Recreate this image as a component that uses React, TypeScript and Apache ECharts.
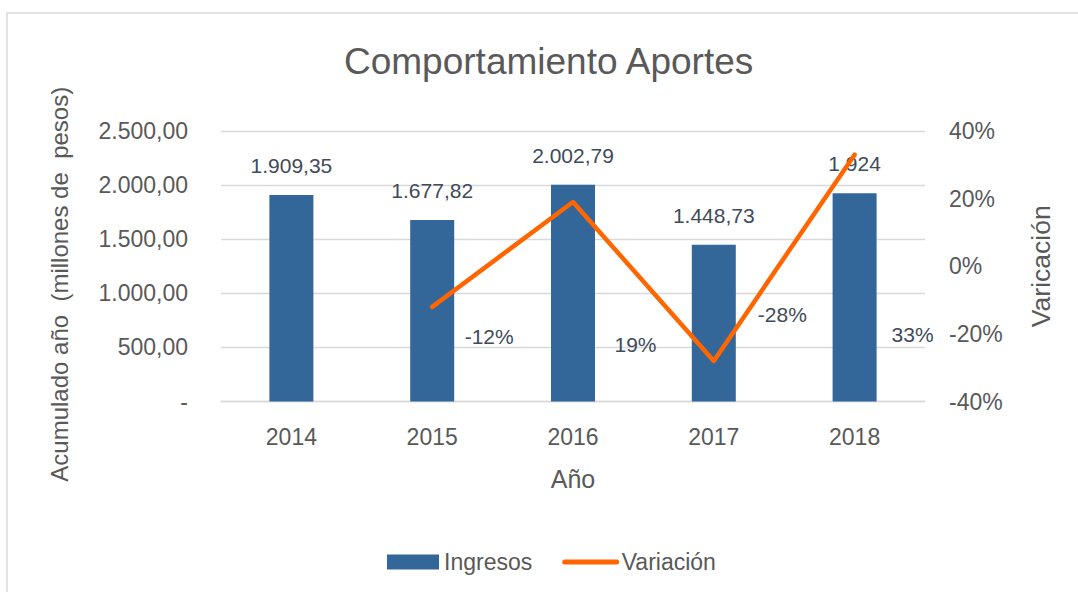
import React, { useEffect, useRef } from 'react';
import * as echarts from 'echarts';

const years = ['2014', '2015', '2016', '2017', '2018'];
const ingresos = [1909.35, 1677.82, 2002.79, 1448.73, 1924];
const variacion: (number | string)[] = ['-', -12, 19, -28, 33];
const leftTicks = { min: 0, max: 2500, interval: 500 };
const rightTicks = { min: -40, max: 40, interval: 20 };

const titleText = 'Comportamiento Aportes';
const leftName = 'Acumulado año  (millones de  pesos)';
const rightName = 'Varicación';
const xName = 'Año';
const barName = 'Ingresos';
const lineName = 'Variación';

function fmtNum(v: number, dec: number): string {
  const fixed = v.toFixed(dec);
  const parts = fixed.split('.');
  const grouped = parts[0].replace(/\B(?=(\d{3})+(?!\d))/g, '.');
  return parts[1] ? grouped + ',' + parts[1] : grouped;
}

export default function App() {
  const ref = useRef<HTMLDivElement>(null);

  useEffect(() => {
    if (!ref.current) return;
    const chart = echarts.init(ref.current, undefined, { renderer: 'svg' });
    const gray = '#595959';
    const labelColor = '#404B5B';
    const font = 'Liberation Sans, Arial, sans-serif';
    // per-point label offsets (layout only)
    const lineLabelOffsets: number[][] = [[0, 0], [57, 29.5], [62.5, 142], [68.5, -46], [58, 180]];

    chart.setOption({
      animation: false,
      backgroundColor: '#ffffff',
      textStyle: { fontFamily: font },
      title: {
        text: titleText,
        left: 344,
        top: 43,
        padding: 0,
        textStyle: { fontSize: 37, fontWeight: 'normal', color: gray, fontFamily: font },
      },
      graphic: [
        {
          type: 'rect',
          shape: { x: 7, y: 13, width: 1200, height: 700 },
          style: { fill: 'none', stroke: '#D9D9D9', lineWidth: 1.5 },
          silent: true,
          z: -1,
        },
      ],
      legend: {
        left: 387,
        top: 550.5,
        padding: 0,
        itemWidth: 52,
        itemHeight: 15,
        itemGap: 30,
        textStyle: { fontSize: 23, color: gray, fontFamily: font },
        data: [
          { name: barName, icon: 'rect' },
          {
            name: lineName,
            itemStyle: { opacity: 0 },
            lineStyle: { width: 5, cap: 'round', color: '#FF6600' },
          },
        ],
      },
      grid: { left: 221, right: 153, top: 131, bottom: 190.5, containLabel: false },
      xAxis: {
        type: 'category',
        data: years,
        name: xName,
        nameLocation: 'middle',
        nameGap: 65,
        nameTextStyle: { fontSize: 25, color: gray, fontFamily: font },
        axisLine: { show: true, onZero: false, lineStyle: { color: '#D9D9D9', width: 1.3 } },
        axisTick: { show: false },
        axisLabel: { fontSize: 23, color: gray, margin: 24, fontFamily: font },
      },
      yAxis: [
        {
          type: 'value',
          min: leftTicks.min,
          max: leftTicks.max,
          interval: leftTicks.interval,
          name: leftName,
          nameLocation: 'middle',
          nameGap: 150,
          nameTextStyle: { fontSize: 24, color: gray, fontFamily: font, padding: [0, 36, 0, 0] },
          axisLine: { show: false },
          axisTick: { show: false },
          splitLine: { show: true, lineStyle: { color: '#D9D9D9', width: 1.3 } },
          axisLabel: {
            fontSize: 23,
            color: gray,
            margin: 33,
            fontFamily: font,
            formatter: (v: number) => (v === 0 ? '-' : fmtNum(v, 2)),
          },
        },
        {
          type: 'value',
          min: rightTicks.min,
          max: rightTicks.max,
          interval: rightTicks.interval,
          name: rightName,
          nameLocation: 'middle',
          nameGap: 102,
          nameTextStyle: { fontSize: 26.5, color: gray, fontFamily: font },
          axisLine: { show: false },
          axisTick: { show: false },
          splitLine: { show: false },
          axisLabel: {
            fontSize: 23,
            color: gray,
            margin: 24,
            fontFamily: font,
            formatter: '{value}%',
          },
        },
      ],
      series: [
        {
          name: barName,
          type: 'bar',
          data: ingresos,
          barWidth: 44,
          itemStyle: { color: '#336699' },
          z: 2,
          label: {
            show: true,
            position: 'top',
            distance: 19,
            fontSize: 21,
            color: labelColor,
            fontFamily: font,
            formatter: (p: any) => (Number.isInteger(p.value) ? fmtNum(p.value, 0) : fmtNum(p.value, 2)),
          },
        },
        {
          name: lineName,
          type: 'line',
          yAxisIndex: 1,
          z: 3,
          symbol: 'circle',
          symbolSize: 1,
          showSymbol: true,
          itemStyle: { color: '#FF6600' },
          lineStyle: { color: '#FF6600', width: 4.5, cap: 'round', join: 'round' },
          data: variacion.map((v, i) =>
            v === '-' ? '-' : { value: v, label: { offset: lineLabelOffsets[i] } }
          ),
          label: {
            show: true,
            position: 'inside',
            fontSize: 21,
            color: labelColor,
            fontFamily: font,
            formatter: '{c}%',
          },
        },
      ],
    });

    return () => chart.dispose();
  }, []);

  return (
    <div
      ref={ref}
      style={{ position: 'absolute', left: 0, top: 0, width: 1078, height: 592, background: '#fff' }}
    />
  );
}
